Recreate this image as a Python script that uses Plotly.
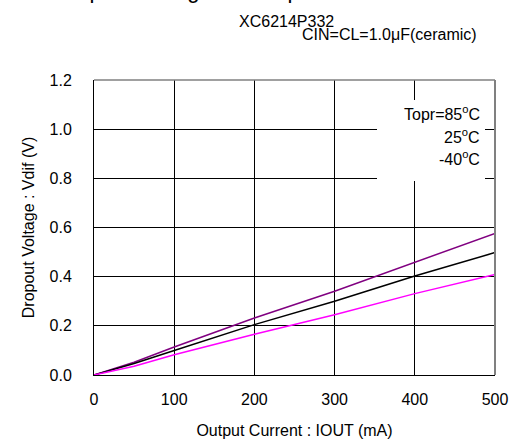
import plotly.graph_objects as go

current = [0, 50, 100, 200, 300, 400, 500]
v_85 = [0, 0.052, 0.114, 0.232, 0.341, 0.458, 0.576]
v_25 = [0, 0.047, 0.100, 0.205, 0.300, 0.403, 0.498]
v_m40 = [0, 0.036, 0.082, 0.166, 0.245, 0.331, 0.409]

x_ticks = [0, 100, 200, 300, 400, 500]
y_ticks = [0.0, 0.2, 0.4, 0.6, 0.8, 1.0, 1.2]
y_tick_labels = ["0.0", "0.2", "0.4", "0.6", "0.8", "1.0", "1.2"]

FONT = "Liberation Sans, Arial, sans-serif"

fig = go.Figure()
fig.add_trace(go.Scatter(x=current, y=v_85, mode="lines", line=dict(color="#800080", width=1.5), name="85"))
fig.add_trace(go.Scatter(x=current, y=v_25, mode="lines", line=dict(color="#000000", width=1.5), name="25"))
fig.add_trace(go.Scatter(x=current, y=v_m40, mode="lines", line=dict(color="#FF00FF", width=1.5), name="-40"))

L, R, T, B = 94, 17, 80, 64
W, H = 512, 439
pw, ph = W - L - R, H - T - B

def px(xp):
    return (xp - L) / pw

def py(yp):
    return (H - B - yp) / ph

fig.update_layout(
    width=W, height=H,
    margin=dict(l=L, r=R, t=T, b=B, pad=0, autoexpand=False),
    paper_bgcolor="white", plot_bgcolor="white",
    showlegend=False,
    font=dict(family=FONT, size=16, color="black"),
    xaxis=dict(range=[0, 500], tickvals=x_ticks, ticks="", showgrid=True, gridcolor="#000000",
               gridwidth=1, zeroline=False, showline=True, linecolor="black", linewidth=1,
               automargin=False, ticklabelstandoff=10, tickfont=dict(size=16),
               title=dict(text="Output Current : IOUT (mA)", standoff=18, font=dict(size=16))),
    yaxis=dict(range=[0, 1.2], tickvals=y_ticks, ticktext=y_tick_labels, ticks="", showgrid=True,
               gridcolor="#000000", gridwidth=1, zeroline=False, showline=True, linecolor="black",
               linewidth=1, automargin=False, ticklabelstandoff=18, tickfont=dict(size=16),
               title=dict(text="Dropout Voltage : Vdif (V)", standoff=10, font=dict(size=16))),
)

# top/right border (gray)
fig.add_shape(type="line", xref="paper", yref="paper", x0=0, x1=1, y0=1, y1=1,
              line=dict(color="#808080", width=1.5), layer="above")
fig.add_shape(type="line", xref="paper", yref="paper", x0=1, x1=1, y0=0, y1=1,
              line=dict(color="#808080", width=2), layer="above")

# white legend box
fig.add_shape(type="rect", xref="paper", yref="paper", x0=px(377), x1=px(485), y0=py(181), y1=py(100),
              fillcolor="white", line=dict(width=0), layer="above")

legend_items = ["Topr=85<sup>o</sup>C", "25<sup>o</sup>C", "-40<sup>o</sup>C"]
legend_y = [113, 136, 158]
for txt, yy in zip(legend_items, legend_y):
    fig.add_annotation(text=txt, xref="paper", yref="paper", x=px(482), y=py(yy),
                       xanchor="right", yanchor="middle", showarrow=False,
                       font=dict(size=16, color="black"))

fig.add_annotation(text="XC6214P332", xref="paper", yref="paper", x=px(286), y=py(21),
                   xanchor="center", yanchor="middle", showarrow=False, font=dict(size=16))
fig.add_annotation(text="CIN=CL=1.0μF(ceramic)", xref="paper", yref="paper", x=px(389), y=py(34),
                   xanchor="center", yanchor="middle", showarrow=False, font=dict(size=16))

# cut-off main title at the very top
fig.add_annotation(text="Dropout Voltage vs. Output Current", xref="paper", yref="paper",
                   x=px(226), y=py(4), xanchor="center", yanchor="bottom", showarrow=False,
                   borderpad=0, font=dict(size=22))

fig.write_html("out.html", config={"displayModeBar": False},
               post_script="document.body.style.margin='0';")
